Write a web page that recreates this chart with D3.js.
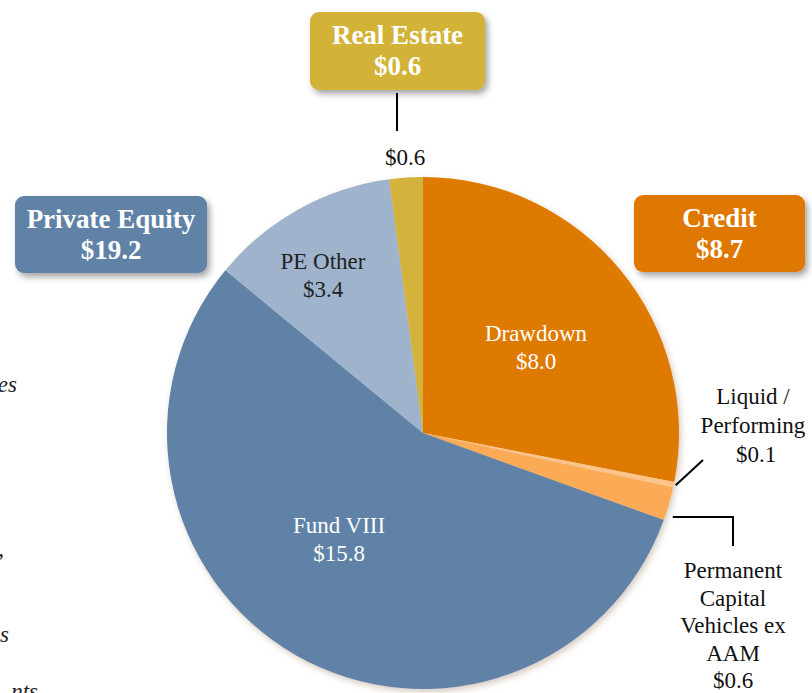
<!DOCTYPE html>
<html><head>
<meta charset="utf-8">
<script src="https://d3js.org/d3.v7.min.js"></script>
<style>
  body { margin: 0; background: #fff; }
  svg text { font-family: "Liberation Serif", "Times New Roman", serif; }
</style>
</head>
<body>
<svg id="pie" width="812" height="693"></svg>
<script>
  // slices, clockwise from 12 o'clock
  const sliceNames = ["Drawdown", "Liquid / Performing", "Permanent Capital Vehicles ex AAM", "Fund VIII", "PE Other", "Real Estate"];
  const sliceValues = [8.0, 0.1, 0.6, 15.8, 3.4, 0.6];
  const sliceColors = ["#df7a00", "#fcc489", "#fbaa55", "#5f82a6", "#9fb4cc", "#d3b33a"];

  // group boxes
  const groupNames = ["Real Estate", "Private Equity", "Credit"];
  const groupValues = [0.6, 19.2, 8.7];
  const groupColors = ["#d2b338", "#5f82a6", "#df7800"];

  const svg = d3.select("svg#pie");
  const cx = 423, cy = 433, radius = 256;

  const defs = svg.append("defs");
  let shadow = defs.append("filter").attr("id", "shadow")
      .attr("x", "-20%").attr("y", "-20%").attr("width", "140%").attr("height", "150%");
  shadow.append("feDropShadow").attr("dx", 3).attr("dy", 4).attr("stdDeviation", 3)
      .attr("flood-color", "#000").attr("flood-opacity", 0.35);
  let pieShadow = defs.append("filter").attr("id", "pieShadow")
      .attr("x", "-10%").attr("y", "-10%").attr("width", "120%").attr("height", "120%");
  pieShadow.append("feDropShadow").attr("dx", 2).attr("dy", 3).attr("stdDeviation", 3)
      .attr("flood-color", "#7a5030").attr("flood-opacity", 0.3);

  // cut-off italic text at the left edge
  const fragments = [["es", 17, 392], [",", 4, 556], ["s", 9, 642], ["nts", 38, 699]];
  svg.selectAll("text.frag").data(fragments).enter().append("text")
    .attr("class", "frag")
    .attr("x", d => d[1]).attr("y", d => d[2])
    .attr("text-anchor", "end")
    .style("font-style", "italic").style("font-size", "23px").style("fill", "#222")
    .text(d => d[0]);

  const pie = d3.pie().sort(null).value(d => d);
  const arcs = pie(sliceValues);
  const arc = d3.arc().innerRadius(0).outerRadius(radius);

  let chart = svg.append("g").attr("transform", "translate(" + cx + "," + cy + ")");
  chart.append("g").attr("filter", "url(#pieShadow)")
    .selectAll("path").data(arcs).enter().append("path")
    .attr("d", arc)
    .attr("fill", (d, i) => sliceColors[i]);

  // inner labels: [slice index, x offset, y offset, color]
  const inner = [[0, 113, -92, "#fff"], [3, -84, 100, "#fff"], [4, -100, -164, "#222"]];
  inner.forEach(function(l) {
    let i = l[0];
    let t = chart.append("text").attr("text-anchor", "middle")
      .style("font-size", "23px").style("fill", l[3]);
    t.append("tspan").attr("x", l[1]).attr("y", l[2]).text(sliceNames[i]);
    t.append("tspan").attr("x", l[1]).attr("y", l[2] + 28).text("$" + sliceValues[i].toFixed(1));
  });

  // leader lines and outside labels
  const lineStyle = g => g.attr("stroke", "#000").attr("stroke-width", 2).attr("fill", "none");

  // real estate
  svg.append("line").attr("x1", 397).attr("y1", 93).attr("x2", 397).attr("y2", 131).call(lineStyle);
  svg.append("text").attr("x", 405).attr("y", 165).attr("text-anchor", "middle")
    .style("font-size", "23px").style("fill", "#111").text("$" + sliceValues[5].toFixed(1));

  // liquid / performing
  let liqA = arcs[1], liqMid = (liqA.startAngle + liqA.endAngle) / 2;
  let lx = cx + Math.sin(liqMid) * (radius + 2), ly = cy - Math.cos(liqMid) * (radius + 2);
  svg.append("line").attr("x1", lx).attr("y1", ly).attr("x2", 703).attr("y2", 460).call(lineStyle);
  let liqText = svg.append("text").attr("text-anchor", "middle").style("font-size", "23px").style("fill", "#111");
  ["Liquid /", "Performing", "$" + sliceValues[1].toFixed(1)].forEach((s, i) => {
    liqText.append("tspan").attr("x", i == 2 ? 756 : 753).attr("y", 404 + i * 29).text(s);
  });

  // permanent capital
  let pcA = arcs[2], pcMid = (pcA.startAngle + pcA.endAngle) / 2;
  let px = cx + Math.sin(pcMid) * (radius + 4);
  svg.append("path").attr("d", "M" + px + "," + 517 + "H733V546").call(lineStyle);
  let pcText = svg.append("text").attr("text-anchor", "middle").style("font-size", "23px").style("fill", "#111");
  ["Permanent", "Capital", "Vehicles ex", "AAM", "$" + sliceValues[2].toFixed(1)].forEach((s, i) => {
    pcText.append("tspan").attr("x", 733).attr("y", 578 + i * 27.5).text(s);
  });

  // group boxes: [x, y, w, h]
  const boxes = [[310, 12, 175, 78], [15, 196, 192, 77], [634, 195, 171, 77]];
  boxes.forEach(function(b, i) {
    svg.append("rect").attr("x", b[0]).attr("y", b[1]).attr("width", b[2]).attr("height", b[3])
      .attr("rx", 9).attr("fill", groupColors[i]).attr("filter", "url(#shadow)");
    let t = svg.append("text").attr("text-anchor", "middle")
      .style("font-size", "27px").style("font-weight", "bold").style("fill", "#fff");
    t.append("tspan").attr("x", b[0] + b[2] / 2).attr("y", b[1] + 32).text(groupNames[i]);
    t.append("tspan").attr("x", b[0] + b[2] / 2).attr("y", b[1] + 63).text("$" + groupValues[i].toFixed(1));
  });
</script>
</body>
</html>
